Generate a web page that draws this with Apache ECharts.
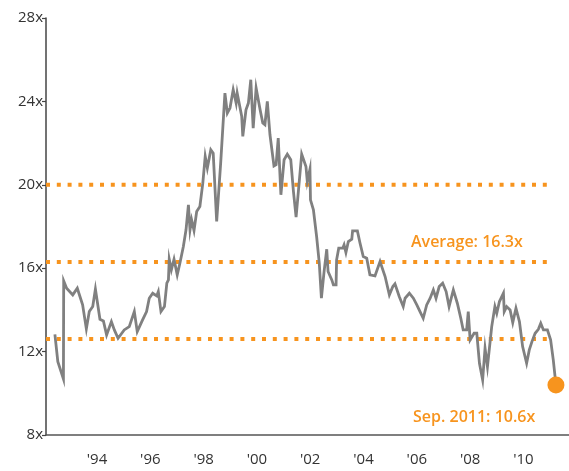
<!DOCTYPE html>
<html>
<head>
<meta charset="utf-8">
<script src="https://cdn.jsdelivr.net/npm/echarts@6/dist/echarts.min.js"></script>
<style>
html,body{margin:0;padding:0;background:#fff;}
#chart{width:569px;height:471px;}
</style>
</head>
<body>
<div id="chart"></div>
<script>
// Decimal years (x) and forward P/E values (y)
const years = [
  1992.92,1993.03,1993.24,1993.25,1993.36,1993.59,1993.76,1993.96,1994.10,1994.21,
  1994.34,1994.44,1994.61,1994.74,1994.86,1995.04,1995.15,1995.29,1995.52,1995.71,
  1995.90,1996.01,1996.21,1996.36,1996.46,1996.59,1996.74,1996.80,1996.90,1997.03,
  1997.12,1997.18,1997.21,1997.29,1997.39,1997.46,1997.51,1997.61,1997.74,1997.84,
  1997.93,1997.99,1998.05,1998.14,1998.24,1998.36,1998.47,1998.56,1998.64,1998.77,
  1998.86,1998.99,1999.14,1999.30,1999.39,1999.49,1999.61,1999.72,1999.76,1999.93,
  1999.97,2000.09,2000.18,2000.27,2000.36,2000.47,2000.62,2000.72,2000.80,2000.89,
  2000.99,2001.14,2001.22,2001.30,2001.40,2001.52,2001.64,2001.77,2001.87,2001.97,
  2002.18,2002.34,2002.39,2002.49,2002.51,2002.62,2002.74,2002.84,2002.92,2003.02,
  2003.12,2003.17,2003.31,2003.37,2003.47,2003.49,2003.57,2003.72,2003.77,2003.84,
  2003.93,2004.06,2004.09,2004.27,2004.37,2004.49,2004.62,2004.74,2004.93,2005.12,
  2005.31,2005.47,2005.60,2005.68,2005.84,2005.99,2006.06,2006.22,2006.37,2006.50,
  2006.62,2006.74,2006.87,2007.00,2007.12,2007.22,2007.34,2007.47,2007.60,2007.71,
  2007.87,2008.02,2008.15,2008.24,2008.37,2008.43,2008.50,2008.65,2008.75,2008.85,
  2008.97,2009.06,2009.15,2009.31,2009.43,2009.50,2009.60,2009.75,2009.78,2009.87,
  2010.00,2010.10,2010.22,2010.35,2010.47,2010.62,2010.72,2010.82,2010.94,2011.06,
  2011.15,2011.25,2011.40,2011.52,2011.62,2011.72
];
const peValues = [
  12.83,11.52,10.69,15.39,15.04,14.72,15.04,14.24,13.09,13.92,
  14.16,15.00,13.55,13.47,12.80,13.44,13.04,12.64,13.04,13.20,
  13.92,12.96,13.52,13.92,14.56,14.80,14.67,14.88,13.92,14.16,
  15.28,15.44,16.43,15.92,16.43,16.48,15.68,16.24,17.04,17.84,
  19.04,17.84,18.32,17.81,18.72,18.96,20.08,21.36,20.80,21.68,
  21.52,18.24,21.04,24.40,23.44,23.68,24.56,23.92,24.40,23.28,
  22.32,23.60,23.92,25.04,22.72,24.64,23.60,22.96,22.88,24.00,
  22.40,20.90,20.96,22.24,19.52,21.20,21.47,21.20,19.68,18.45,
  21.47,20.88,20.16,20.75,19.28,18.80,17.52,16.24,14.56,15.84,
  16.91,15.84,15.44,15.20,15.20,16.40,16.96,16.96,17.12,16.75,
  17.28,17.39,17.79,17.79,17.20,16.56,16.48,15.68,15.63,16.32,
  15.60,14.72,15.12,15.25,14.64,14.16,14.56,14.80,14.56,14.24,
  13.92,13.60,14.24,14.56,14.96,14.56,15.12,15.28,14.88,14.16,
  14.96,14.32,13.60,13.04,13.04,13.92,12.56,12.88,12.88,11.44,
  10.64,12.16,11.28,13.20,14.16,13.84,14.40,14.80,13.92,14.16,
  14.00,13.39,14.08,13.44,12.24,11.44,12.08,12.48,12.88,13.07,
  13.36,13.04,13.04,12.56,11.60,10.40
];
// Reference levels: +1 std dev, average, -1 std dev
const bandLevels = [20.0, 16.3, 12.6];
const bandStartYear = 1992.586;
const bandEndYear = 2011.62;
// X-axis tick positions (mid-year) and labels
const tickYears = [1994.5,1996.5,1998.5,2000.5,2002.5,2004.5,2006.5,2008.5,2010.5];
const tickLabels = ["'94","'96","'98","'00","'02","'04","'06","'08","'10"];
const yTickValues = [8,12,16,20,24,28];
const avgLabel = 'Average: 16.3x';
const lastLabel = 'Sep. 2011: 10.6x';

const ORANGE = '#f7941e';
const chart = echarts.init(document.getElementById('chart'), null, {renderer:'canvas'});

const lineData = years.map((y,i)=>[y, peValues[i]]);
const bandSeries = bandLevels.map(level => ({
  type:'line',
  data:[[bandStartYear, level],[bandEndYear, level]],
  symbol:'none',
  silent:true,
  z:1,
  lineStyle:{color:ORANGE, width:4, type:[4,6.8]}
}));

chart.setOption({
  animation:false,
  grid:{left:46, right:0, top:18, bottom:36},
  xAxis:{
    type:'value',
    min:bandStartYear,
    max:2012.21,
    splitLine:{show:false},
    axisLine:{show:true, lineStyle:{color:'#555', width:1.5}},
    axisTick:{show:false},
    axisLabel:{
      customValues:tickYears,
      margin:17,
      fontFamily:'Open Sans',
      fontSize:15,
      color:'#333',
      formatter:v=>{
        const i = tickYears.findIndex(t=>Math.abs(t-v)<0.01);
        return i>=0 ? tickLabels[i] : '';
      }
    }
  },
  yAxis:{
    type:'value',
    min:8, max:28, interval:4,
    splitLine:{show:false},
    axisLine:{show:true, lineStyle:{color:'#444', width:1.5}},
    axisTick:{show:true, length:4, lineStyle:{color:'#444', width:1.2}},
    axisLabel:{
      margin:3,
      fontFamily:'Open Sans',
      fontSize:15,
      color:'#333',
      formatter:v=> yTickValues.includes(v) ? v + 'x' : ''
    }
  },
  series:[
    ...bandSeries,
    {
      type:'line',
      data:lineData,
      symbol:'none',
      z:3,
      lineStyle:{color:'#808080', width:2.8, join:'miter'}
    },
    {
      type:'scatter',
      data:[lineData[lineData.length-1]],
      symbol:'circle',
      symbolSize:17,
      z:4,
      itemStyle:{color:ORANGE, opacity:1}
    }
  ],
  graphic:[
    {type:'text', x:411, y:242.5, style:{text:avgLabel, fill:ORANGE, align:'left', verticalAlign:'middle', font:'600 16px "Open Sans"'}},
    {type:'text', x:413, y:417.5, style:{text:lastLabel, fill:ORANGE, align:'left', verticalAlign:'middle', font:'600 16px "Open Sans"'}}
  ]
});
</script>
</body>
</html>
